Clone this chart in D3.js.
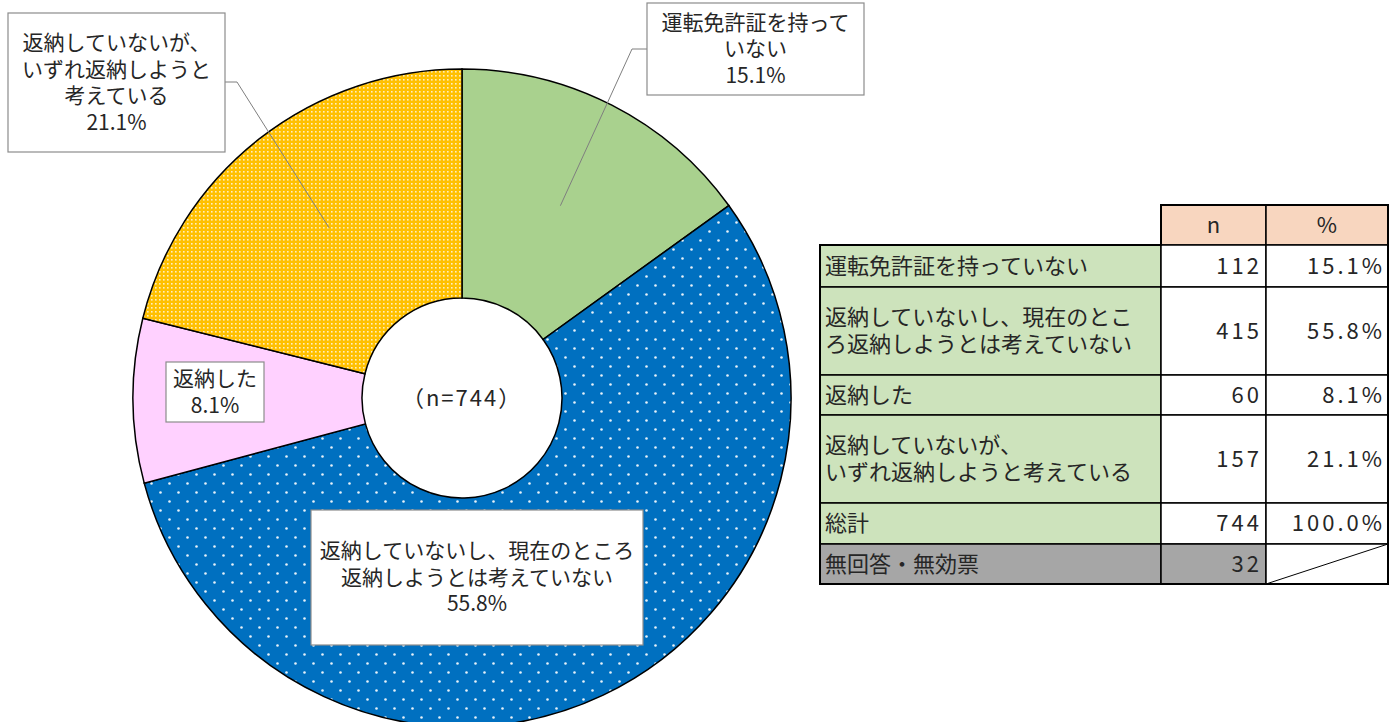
<!DOCTYPE html>
<html>
<head>
<meta charset="utf-8">
<script src="https://cdn.jsdelivr.net/npm/d3@7"></script>
<style>
  body { margin: 0; background: #fff; }
  text { font-family: "Noto Sans CJK JP", "Noto Sans", sans-serif; fill: #262626; }
</style>
</head>
<body>
<div id="chart"></div>
<script>
"use strict";

// slice data, clockwise from 12 o'clock
const categories = ['運転免許証を持っていない', '返納していないし、現在のところ返納しようとは考えていない', '返納した', '返納していないが、いずれ返納しようと考えている']
const counts = [112, 415, 60, 157]
const percents = ['15.1%', '55.8%', '8.1%', '21.1%']
const chartLabelLines = [
  ['運転免許証を持って', 'いない'],
  ['返納していないし、現在のところ', '返納しようとは考えていない'],
  ['返納した'],
  ['返納していないが、', 'いずれ返納しようと', '考えている']
]
const tableLabelLines = [
  ['運転免許証を持っていない'],
  ['返納していないし、現在のとこ', 'ろ返納しようとは考えていない'],
  ['返納した'],
  ['返納していないが、', 'いずれ返納しようと考えている']
]
const totalLabel = '総計'
const totalN = 744
const totalPct = '100.0%'
const noAnswerLabel = '無回答・無効票'
const noAnswerN = 32
const headers = ['n', '%']

const W = 1397, H = 722
const cx = 462, cy = 398
const R = 329, R0 = 100

const svg = d3.select('#chart').append('svg')
    .attr('width', W)
    .attr('height', H)

svg.append('rect').attr('width', W).attr('height', H).attr('fill', '#fff')

/*
 * Fill patterns
 ***/
const defs = svg.append('defs')

const blueP = defs.append('pattern')
  .attr('id', 'pBlue')
  .attr('patternUnits', 'userSpaceOnUse')
  .attr('width', 18).attr('height', 18)
blueP.append('rect').attr('width', 18).attr('height', 18).attr('fill', '#0070C0')
blueP.selectAll('circle').data([[4.5, 4.5], [13.5, 13.5]]).enter()
  .append('circle')
  .attr('cx', d => d[0]).attr('cy', d => d[1])
  .attr('r', 1.3).attr('fill', '#fff').attr('opacity', 0.9)

const orangeP = defs.append('pattern')
  .attr('id', 'pOrange')
  .attr('patternUnits', 'userSpaceOnUse')
  .attr('width', 4).attr('height', 4)
orangeP.append('rect').attr('width', 4).attr('height', 4).attr('fill', '#FFC000')
orangeP.append('rect')
  .attr('x', 1).attr('y', 1).attr('width', 1.6).attr('height', 1.6)
  .attr('fill', '#fff').attr('opacity', 0.75)

const fills = ['#A9D18E', 'url(#pBlue)', '#FFD1FF', 'url(#pOrange)']

/*
 * Donut
 ***/
const pie = d3.pie().sort(null).value(d => d)
const arcs = pie(counts)
const arc = d3.arc().innerRadius(R0).outerRadius(R)

const g = svg.append('g').attr('transform', `translate(${cx},${cy})`)

g.selectAll('path.slice')
  .data(arcs)
  .enter()
  .append('path')
  .attr('class', 'slice')
  .attr('d', arc)
  .attr('fill', (d, i) => fills[i])
  .attr('stroke', '#000')
  .attr('stroke-width', 1.5)

g.append('text')
  .attr('text-anchor', 'middle')
  .attr('dy', '0.35em')
  .style('font-size', '22px')
  .style('letter-spacing', '2px')
  .text(`（n=${totalN}）`)

/*
 * Label boxes
 ***/
const leaderArc = d3.arc().innerRadius(216).outerRadius(216)

const boxes = [
  { x: 647, y: 3, w: 217, h: 92, elbow: [632, 49], from: [647, 49] },
  { x: 311, y: 510, w: 332, h: 135 },
  { x: 166, y: 362, w: 98, h: 60 },
  { x: 8, y: 13, w: 217, h: 139, elbow: [237, 82], from: [225, 82] }
]

const lineH = 26.5

boxes.forEach((b, i) => {
  if (b.elbow) {
    const [ex, ey] = leaderArc.centroid(arcs[i])
    svg.append('polyline')
      .attr('points', [b.from, b.elbow, [cx + ex, cy + ey]].map(p => p.join(',')).join(' '))
      .attr('fill', 'none')
      .attr('stroke', '#7f7f7f')
      .attr('stroke-width', 1)
  }
  svg.append('rect')
    .attr('x', b.x).attr('y', b.y)
    .attr('width', b.w).attr('height', b.h)
    .attr('fill', '#fff')
    .attr('stroke', '#8c8c8c')
    .attr('stroke-width', 1.2)

  const lines = chartLabelLines[i].concat([percents[i]])
  const top = b.y + b.h / 2 - (lines.length - 1) * lineH / 2
  const t = svg.append('text')
    .attr('text-anchor', 'middle')
    .style('font-size', '21px')
  lines.forEach((s, k) => {
    t.append('tspan')
      .attr('x', b.x + b.w / 2)
      .attr('y', top + k * lineH)
      .attr('dy', '0.35em')
      .text(s)
  })
})

/*
 * Table
 ***/
const colX = [820, 1161, 1266, 1388]
const rowY = [205, 245, 287, 375, 415, 503, 544, 584]

const rows = categories.map((c, i) => ({
  lines: tableLabelLines[i], n: counts[i], pct: percents[i], fill: '#CDE3BC', nfill: '#fff'
}))
rows.push({ lines: [totalLabel], n: totalN, pct: totalPct, fill: '#CDE3BC', nfill: '#fff' })
rows.push({ lines: [noAnswerLabel], n: noAnswerN, pct: null, fill: '#A6A6A6', nfill: '#A6A6A6' })

const tg = svg.append('g').style('font-size', '22px')

// header
headers.forEach((h, j) => {
  tg.append('rect')
    .attr('x', colX[j + 1]).attr('y', rowY[0])
    .attr('width', colX[j + 2] - colX[j + 1]).attr('height', rowY[1] - rowY[0])
    .attr('fill', '#F8D6BF').attr('stroke', '#000').attr('stroke-width', 1.5)
  tg.append('text')
    .attr('x', (colX[j + 1] + colX[j + 2]) / 2)
    .attr('y', (rowY[0] + rowY[1]) / 2)
    .attr('dy', '0.35em')
    .attr('text-anchor', 'middle')
    .text(h)
})

rows.forEach((r, i) => {
  const y0 = rowY[i + 1], y1 = rowY[i + 2], ym = (y0 + y1) / 2
  const cellFills = [r.fill, r.nfill, '#fff']
  cellFills.forEach((f, j) => {
    tg.append('rect')
      .attr('x', colX[j]).attr('y', y0)
      .attr('width', colX[j + 1] - colX[j]).attr('height', y1 - y0)
      .attr('fill', f).attr('stroke', '#000').attr('stroke-width', 1.5)
  })
  const t = tg.append('text')
  r.lines.forEach((s, k) => {
    t.append('tspan')
      .attr('x', colX[0] + 5)
      .attr('y', ym + (k - (r.lines.length - 1) / 2) * 27)
      .attr('dy', '0.35em')
      .text(s)
  })
  tg.append('text')
    .attr('x', colX[2] - 4).attr('y', ym).attr('dy', '0.35em')
    .attr('text-anchor', 'end')
    .style('letter-spacing', '3px')
    .text(r.n)
  if (r.pct) {
    tg.append('text')
      .attr('x', colX[3] - 3).attr('y', ym).attr('dy', '0.35em')
      .attr('text-anchor', 'end')
      .style('letter-spacing', '3px')
      .text(r.pct)
  } else {
    tg.append('line')
      .attr('x1', colX[2]).attr('y1', y1)
      .attr('x2', colX[3]).attr('y2', y0)
      .attr('stroke', '#000').attr('stroke-width', 1)
  }
})

// outer border
tg.append('path')
  .attr('d', `M${colX[0]},${rowY[1]}H${colX[1]}V${rowY[0]}H${colX[3]}V${rowY[7]}H${colX[0]}Z`)
  .attr('fill', 'none').attr('stroke', '#000').attr('stroke-width', 2)
</script>
</body>
</html>
